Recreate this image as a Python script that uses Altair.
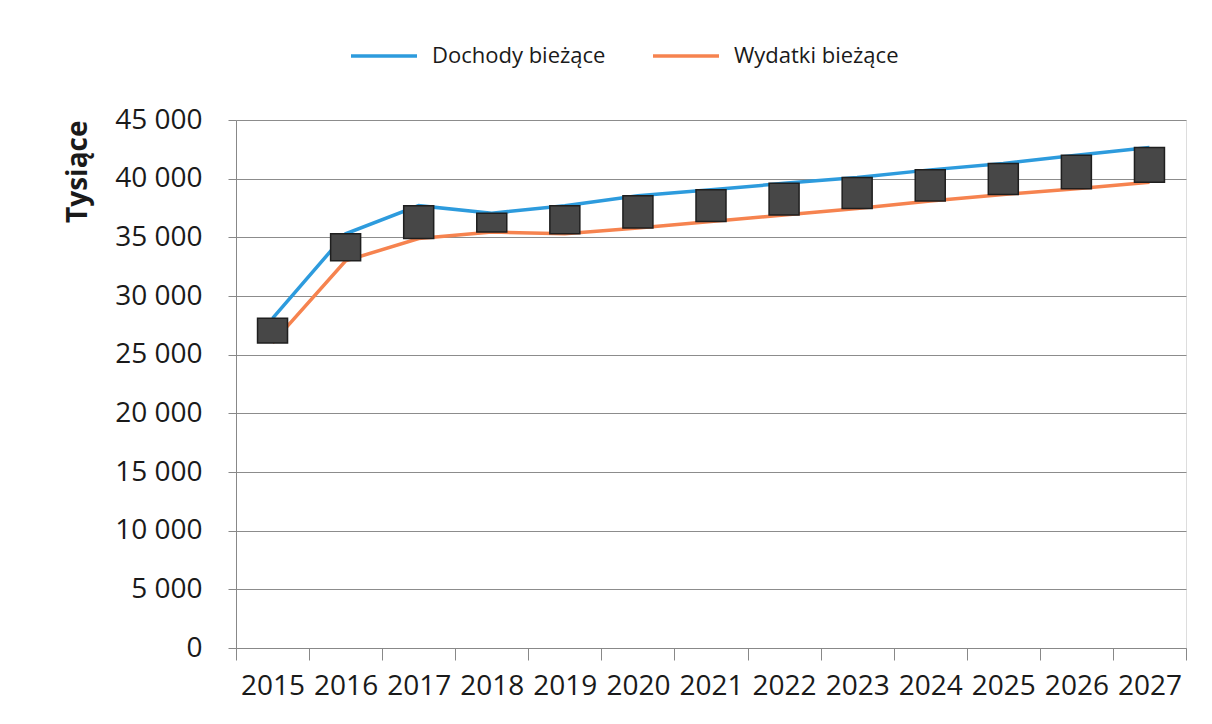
import altair as alt
import pandas as pd

years = ["2015", "2016", "2017", "2018", "2019", "2020", "2021",
         "2022", "2023", "2024", "2025", "2026", "2027"]
dochody = [28100, 35300, 37700, 37050, 37700, 38550, 39050,
           39600, 40100, 40750, 41300, 42000, 42650]
wydatki = [26000, 33000, 34900, 35450, 35300, 35800, 36350,
           36900, 37450, 38100, 38650, 39150, 39700]
series = ["Dochody bieżące", "Wydatki bieżące"]
colors = ["#2D9BDD", "#F6834F"]
y_ticks = [0, 5000, 10000, 15000, 20000, 25000, 30000, 35000, 40000, 45000]

df = pd.DataFrame({"rok": years, series[0]: dochody, series[1]: wydatki})

x_enc = alt.X(
    "rok:N",
    sort=years,
    scale=alt.Scale(paddingInner=0, paddingOuter=0),
    axis=alt.Axis(
        title=None, labelAngle=0, tickBand="extent", ticks=True, tickSize=12,
        tickColor="#888888", domainColor="#888888", labelPadding=12,
        labelFont="Open Sans", labelFontSize=28, labelColor="#1a1a1a", grid=False,
    ),
)

y_axis = alt.Axis(
    values=y_ticks, title="Tysiące", titleFont="Open Sans", titleFontWeight="bold",
    titleFontSize=28, titleColor="#1a1a1a", titleAngle=-90, titleX=-158, titleY=0,
    titleAlign="right", titleBaseline="middle",
    labelFont="Open Sans", labelFontSize=28, labelColor="#1a1a1a", labelPadding=26,
    labelExpr="replace(format(datum.value, ','), ',', ' ')",
    tickSize=8, tickColor="#888888", domainColor="#888888",
    grid=True, gridColor="#8c8c8c", gridWidth=1,
)

lines = alt.Chart(df).transform_fold(
    series, as_=["seria", "wartosc"]
).mark_line(strokeWidth=3.5).encode(
    x=x_enc,
    y=alt.Y("wartosc:Q", scale=alt.Scale(domain=[0, 45000], nice=False), axis=y_axis),
    color=alt.Color(
        "seria:N",
        scale=alt.Scale(domain=series, range=colors),
        legend=alt.Legend(
            title=None, orient="none", legendX=113, legendY=-99, direction="horizontal",
            symbolType="stroke", symbolSize=4356, symbolStrokeWidth=3.5,
            labelFont="Open Sans", labelFontSize=22, labelColor="#1a1a1a",
            labelOffset=13, labelLimit=0, columnPadding=40, padding=0,
        ),
    ),
)

bars = alt.Chart(df).mark_bar(
    width=30, fill="#474747", stroke="#1f1f1f", strokeWidth=1.5
).encode(
    x=alt.X("rok:N", sort=years),
    y=alt.Y(f"{series[1]}:Q"),
    y2=alt.Y2(f"{series[0]}:Q"),
)

chart = alt.layer(lines, bars).properties(
    width=950, height=528,
    autosize=alt.AutoSizeParams(type="none"),
    padding={"left": 228, "top": 112, "right": 18, "bottom": 76},
).configure_view(stroke=None).configure(background="white")

chart.save("out.html", embed_options={"renderer": "svg", "actions": False})
